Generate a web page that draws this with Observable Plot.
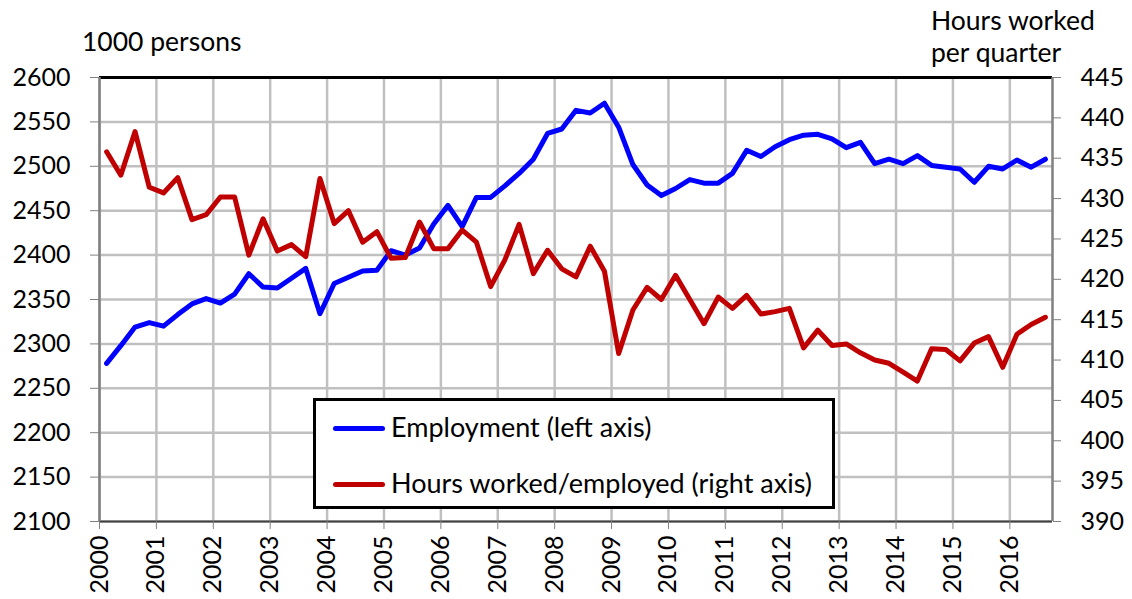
<!DOCTYPE html>
<html>
<head>
<meta charset="utf-8">
<script src="https://cdn.jsdelivr.net/npm/d3@7"></script>
<script src="https://cdn.jsdelivr.net/npm/@observablehq/plot@0.6"></script>
<style>
  body { margin: 0; background: #fff; }
  #wrap { position: relative; width: 1132px; height: 599px; font-family: Lato, sans-serif; color: #000; }
  #wrap svg { position: absolute; left: 0; top: 0; }
  .lbl { position: absolute; font-size: 26.5px; line-height: 32px; white-space: nowrap; }
  #legend { position: absolute; left: 313px; top: 398px; width: 522px; height: 111px; box-sizing: border-box;
            border: 3px solid #000; background: #fff; font-size: 27px; }
  .item { position: absolute; left: 17px; height: 30px; line-height: 30px; white-space: nowrap; }
  .swatch { display: inline-block; width: 52px; height: 5px; border-radius: 3px; vertical-align: middle; margin-right: 6px; position: relative; top: -2px; }
</style>
</head>
<body>
<div id="wrap">
  <div class="lbl" style="left:82px;top:25px;">1000 persons</div>
  <div class="lbl" style="left:931px;top:4px;">Hours worked<br>per quarter</div>
</div>
<script>
// ---- data ----
const years = d3.range(2000, 2017);
const quarterNames = ["Q1", "Q2", "Q3", "Q4"];
const employment = [
  2278, 2298, 2319, 2324, 2320, 2333, 2345, 2351, 2346, 2356, 2379, 2364,
  2363, 2374, 2385, 2334, 2368, 2375, 2382, 2383, 2405, 2400, 2408, 2435,
  2456, 2432, 2465, 2465, 2478, 2492, 2508, 2537, 2542, 2563, 2560, 2571,
  2544, 2502, 2479, 2467, 2475, 2485, 2481, 2481, 2492, 2518, 2511, 2522,
  2530, 2535, 2536, 2531, 2521, 2527, 2503, 2508, 2503, 2512, 2501, 2499,
  2497, 2482, 2500, 2497, 2507, 2499, 2508
];
const hoursWorked = [
  435.8, 432.9, 438.3, 431.4, 430.7, 432.6, 427.4, 428.0, 430.2, 430.2, 423.0, 427.5,
  423.5, 424.3, 422.8, 432.5, 426.9, 428.5, 424.6, 425.9, 422.6, 422.7, 427.1, 423.8,
  423.8, 426.1, 424.6, 419.1, 422.4, 426.8, 420.7, 423.6, 421.3, 420.3, 424.1, 421.0,
  410.8, 416.2, 419.0, 417.5, 420.5, 417.5, 414.5, 417.8, 416.4, 418.0, 415.7, 416.0,
  416.4, 411.5, 413.7, 411.8, 412.0, 410.9, 410.0, 409.6, 408.5, 407.4, 411.4, 411.3,
  409.9, 412.1, 412.9, 409.1, 413.2, 414.4, 415.3
];
const leftTicks = d3.range(2100, 2601, 50);
const rightTicks = d3.range(390, 446, 5);

// ---- build table ----
const periods = [];
for (const y of years) for (let q = 0; q < 4; q++) periods.push({year: y, q});
const rows = employment.map((e, i) => ({
  t: periods[i].year + (periods[i].q + 0.5) / 4,
  employment: e,
  hours: hoursWorked[i]
}));

// right axis (390..445) mapped onto left axis (2100..2600)
const toLeft = h => 2100 + (h - 390) * 500 / 55;
const toRight = v => 390 + (v - 2100) * 55 / 500;

const chart = Plot.plot({
  width: 1132,
  height: 599,
  marginLeft: 99,
  marginRight: 80,
  marginTop: 77,
  marginBottom: 78,
  style: { fontFamily: "Lato, sans-serif", fontSize: "25px", background: "transparent", color: "#000" },
  x: { type: "linear", domain: [2000, 2016.75], axis: null },
  y: { domain: [2100, 2600], axis: null },
  marks: [
    Plot.gridY({ ticks: leftTicks, stroke: "#c0c0c0", strokeOpacity: 1, strokeWidth: 2.5 }),
    Plot.gridX({ ticks: years, stroke: "#c0c0c0", strokeOpacity: 1, strokeWidth: 2.5 }),
    Plot.ruleY([2600], { stroke: "#000", strokeWidth: 3 }),
    Plot.ruleY([2100], { stroke: "#404040", strokeWidth: 2 }),
    Plot.ruleX([2000], { stroke: "#808080", strokeWidth: 2.5 }),
    Plot.ruleX([2016.75], { stroke: "#808080", strokeWidth: 2.5 }),
    Plot.axisY({ anchor: "left", ticks: leftTicks, tickSize: 9, tickPadding: 20, stroke: "#808080",
                 fill: "#000", fontSize: 25, label: null, tickFormat: d => String(d) }),
    Plot.axisY({ anchor: "right", ticks: rightTicks.map(toLeft), tickSize: 8, tickPadding: 20, stroke: "#808080",
                 fill: "#000", fontSize: 25, label: null, tickFormat: v => String(Math.round(toRight(v))) }),
    Plot.axisX({ ticks: years, tickSize: 8, tickPadding: 6, tickRotate: -90, stroke: "#808080",
                 fill: "#000", fontSize: 25, label: null, tickFormat: d => String(d) }),
    Plot.line(rows, { x: "t", y: "employment", stroke: "#0000ff", strokeWidth: 5, strokeLinejoin: "round", strokeLinecap: "round" }),
    Plot.line(rows, { x: "t", y: d => toLeft(d.hours), stroke: "#c00000", strokeWidth: 5, strokeLinejoin: "round", strokeLinecap: "round" })
  ]
});
document.getElementById("wrap").prepend(chart);

// ---- legend ----
const legendItems = [
  { label: "Employment (left axis)", color: "#0000ff", top: 11 },
  { label: "Hours worked/employed (right axis)", color: "#c00000", top: 67 }
];
const legend = document.createElement("div");
legend.id = "legend";
for (const it of legendItems) {
  const d = document.createElement("div");
  d.className = "item";
  d.style.top = it.top + "px";
  const sw = document.createElement("span");
  sw.className = "swatch";
  sw.style.background = it.color;
  d.appendChild(sw);
  d.appendChild(document.createTextNode(it.label));
  legend.appendChild(d);
}
document.getElementById("wrap").appendChild(legend);
</script>
</body>
</html>
